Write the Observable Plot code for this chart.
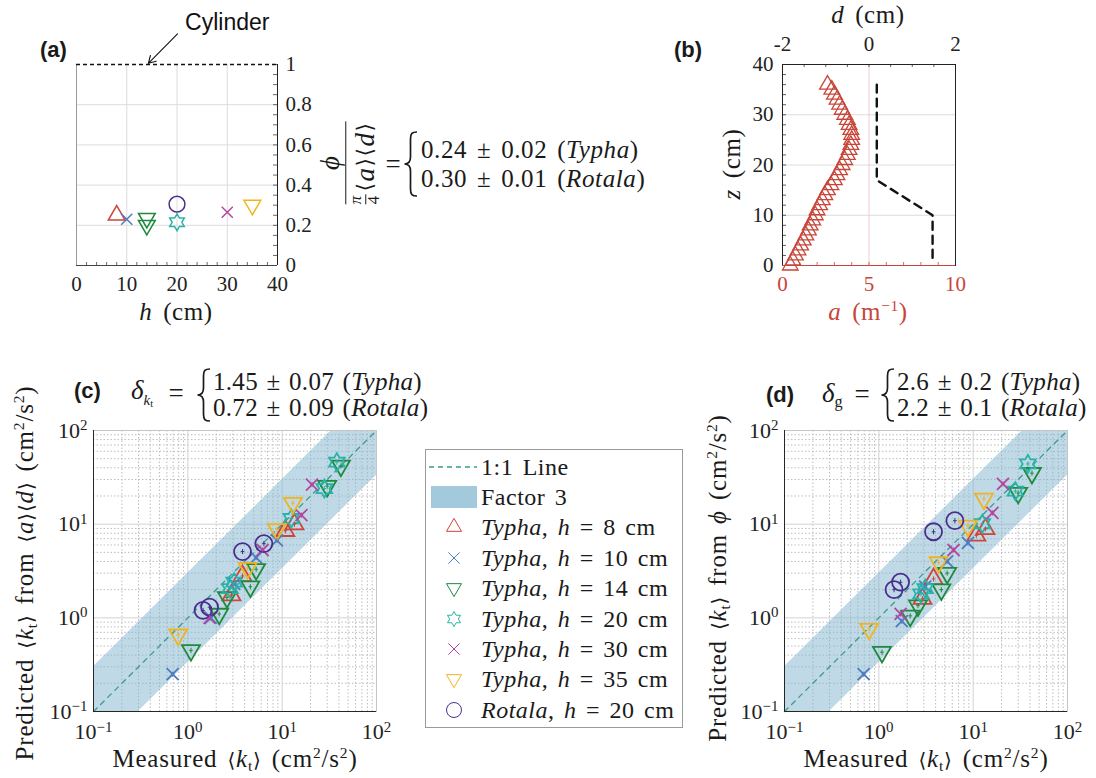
<!DOCTYPE html>
<html>
<head>
<meta charset="utf-8">
<script src="https://cdn.jsdelivr.net/npm/d3@7"></script>
<script src="https://cdn.jsdelivr.net/npm/@observablehq/plot@0.6"></script>
<style>
html,body{margin:0;padding:0;background:#fff;}
#fig{position:relative;width:1096px;height:778px;overflow:hidden;background:#fff;color:#1a1a1a;font-family:"Liberation Serif","DejaVu Serif",serif;}
.t{position:absolute;white-space:nowrap;line-height:1;}
.t sup{font-size:0.62em;vertical-align:0.55em;line-height:0;}
.t sub{font-size:0.62em;vertical-align:-0.3em;line-height:0;}
.ang{font-family:"DejaVu Serif",serif;font-size:0.8em;}
</style>
</head>
<body>
<div id="fig"></div>
<script>
// ======================= DATA =======================
// Series (order of drawing / legend)
const seriesKeys   = ["T8", "T10", "T14", "T20", "T30", "T35", "R20"];
const seriesLabels = [
  "<i>Typha</i>, <i>h</i> = 8 cm",
  "<i>Typha</i>, <i>h</i> = 10 cm",
  "<i>Typha</i>, <i>h</i> = 14 cm",
  "<i>Typha</i>, <i>h</i> = 20 cm",
  "<i>Typha</i>, <i>h</i> = 30 cm",
  "<i>Typha</i>, <i>h</i> = 35 cm",
  "<i>Rotala</i>, <i>h</i> = 20 cm"
];
const seriesColors = ["#d0443a", "#4d7cc0", "#1d8a3d", "#27b3a7", "#b4479f", "#f2b41e", "#4b2c8e"];

// Panel (a): normalized solid fraction vs canopy height
const ratioH      = [8, 10, 14, 14, 20, 20, 30, 35];
const ratioValue  = [0.25, 0.23, 0.235, 0.20, 0.215, 0.305, 0.265, 0.30];
const ratioSeries = ["T8", "T10", "T14", "T14", "T20", "R20", "T30", "T35"];
const cylinderRatio = [1];
const hTicks = [0, 10, 20, 30, 40];
const ratioTicks = [0, 0.2, 0.4, 0.6, 0.8, 1];
const cylinderNote = [{label: "Cylinder", hText: 30.0, rText: 1.21, hFrom: 20.1, rFrom: 1.152, hTo: 14.3, rTo: 1.006}];

// Panel (b): frontal area profile a(z) and stem diameter d(z)
const profileZ = [0,1,2,3,4,5,6,7,8,9,10,11,12,13,14,15,16,17,18,19,20,21,22,23,24,25,26,27,28,29,30,31,32,33,34,35,36];
const profileA = [0.45,0.6,0.75,0.9,1.05,1.2,1.35,1.5,1.6,1.75,1.9,2.0,2.15,2.3,2.45,2.6,2.8,3.0,3.15,3.3,3.45,3.6,3.75,3.85,3.95,4.0,4.0,3.95,3.85,3.75,3.6,3.45,3.3,3.15,3.0,2.85,2.6];
const diameterZ = [36, 17, 10, 0.5];
const diameterD = [0.18, 0.18, 1.47, 1.47];
const aTicks = [0, 5, 10];
const dTicks = [-2, 0, 2];
const zTicks = [0, 10, 20, 30, 40];

// Panels (c) and (d): measured vs predicted <k_t> (cm^2/s^2)
const measT8  = [2.9, 3.8, 10.8, 13.5];
const predAdT8  = [1.75, 2.8, 8.5, 10];
const predPhiT8 = [1.6, 2.6, 7.6, 8.9];
const measT10 = [0.69, 1.75, 3.1, 5.3, 8.8];
const predAdT10  = [0.25, 1.0, 2.3, 4.4, 6.7];
const predPhiT10 = [0.25, 0.92, 2.15, 4.0, 6.3];
const measT14 = [1.08, 2.15, 2.6, 4.6, 5.3, 30, 42];
const predAdT14  = [0.45, 1.1, 1.65, 2.15, 3.3, 25.5, 42];
const predPhiT14 = [0.43, 1.05, 1.35, 2.0, 3.0, 21.5, 35];
const measT20 = [2.8, 3.1, 12.5, 28, 38];
const predAdT20  = [2.05, 2.4, 11.5, 24, 46];
const predPhiT20 = [1.8, 2.05, 10.1, 22.5, 44];
const measT30 = [1.7, 6.2, 16, 20.7];
const predAdT30  = [1.0, 5.3, 12.5, 26.5];
const predPhiT30 = [1.1, 5.3, 13.2, 27];
const measT35 = [0.79, 4.3, 8.8, 13];
const predAdT35  = [0.66, 3.4, 8.8, 16.8];
const predPhiT35 = [0.76, 3.9, 9.6, 18.6];
const measR20 = [1.45, 1.7, 3.8, 6.4];
const predAdR20  = [1.2, 1.3, 5.1, 6.2];
const predPhiR20 = [2.0, 2.4, 8.3, 10.9];
const kRange = [0.1, 100];
const kDecades = [0.1, 1, 10, 100];
const bandFactor = 3;

// ======================= HELPERS =======================
const SERIF = '"Liberation Serif","DejaVu Serif",serif';
const SANS = '"Liberation Sans",Arial,sans-serif';
const measured = [measT8, measT10, measT14, measT20, measT30, measT35, measR20];
const predAd   = [predAdT8, predAdT10, predAdT14, predAdT20, predAdT30, predAdT35, predAdR20];
const predPhi  = [predPhiT8, predPhiT10, predPhiT14, predPhiT20, predPhiT30, predPhiT35, predPhiR20];

const rad = s => Math.sqrt(s / Math.PI);
const symTriUp = {draw(c, s) { const r = rad(s); c.moveTo(0, -1.15 * r); c.lineTo(r, 0.58 * r); c.lineTo(-r, 0.58 * r); c.closePath(); }};
const symTriDown = {draw(c, s) { const r = rad(s); c.moveTo(0, 1.15 * r); c.lineTo(r, -0.58 * r); c.lineTo(-r, -0.58 * r); c.closePath(); }};
const symTimes = {draw(c, s) { const r = rad(s) * 0.75; c.moveTo(-r, -r); c.lineTo(r, r); c.moveTo(-r, r); c.lineTo(r, -r); }};
const symHex = {draw(c, s) { const r = rad(s); for (let i = 0; i < 12; i++) { const ang = -Math.PI / 2 + i * Math.PI / 6; const rr = i % 2 ? r / Math.sqrt(3) : r; const x = rr * Math.cos(ang), y = rr * Math.sin(ang); if (i) c.lineTo(x, y); else c.moveTo(x, y); } c.closePath(); }};
const symCircle = {draw(c, s) { const r = rad(s); c.moveTo(r, 0); c.arc(0, 0, r, 0, 2 * Math.PI); }};
const symPlus = {draw(c, s) { const r = rad(s); c.moveTo(-r * 0.7, 0); c.lineTo(r * 0.7, 0); c.moveTo(0, -r); c.lineTo(0, r); }};
const seriesSymbols = [symTriUp, symTimes, symTriDown, symHex, symTimes, symTriDown, symCircle];
const seriesR = [9, 8, 9, 9, 8, 9, 8.5];

const plotStyle = {fontFamily: SERIF, fontSize: "20px", color: "#222", background: "transparent", overflow: "visible"};
const fig = document.getElementById("fig");

function put(node, left, top) {
  node.style.position = "absolute"; node.style.left = left + "px"; node.style.top = top + "px";
  fig.appendChild(node); return node;
}
function txt(html, x, y, o = {}) {
  const d = document.createElement("div");
  d.className = "t"; d.innerHTML = html;
  d.style.left = x + "px"; d.style.top = y + "px";
  d.style.fontSize = (o.size || 24) + "px";
  d.style.fontFamily = o.family || SERIF;
  d.style.fontWeight = o.weight || "normal";
  d.style.color = o.color || "#1a1a1a";
  if (o.ls) d.style.letterSpacing = o.ls + "px";
  if (o.ws) d.style.wordSpacing = o.ws + "px";
  const tx = o.anchor === "center" ? "-50%" : o.anchor === "right" ? "-100%" : "0";
  d.style.transform = `translate(${tx}, -50%)` + (o.rotate ? ` rotate(${o.rotate}deg)` : "");
  fig.appendChild(d); return d;
}
function brace(left, top, h) {
  const ns = "http://www.w3.org/2000/svg";
  const s = document.createElementNS(ns, "svg");
  s.setAttribute("width", 16); s.setAttribute("height", h);
  const m = h / 2;
  const p = document.createElementNS(ns, "path");
  p.setAttribute("d", `M14,1 C9,1 7.5,2.5 7.5,8 L7.5,${m - 7} C7.5,${m - 2} 5,${m} 1.5,${m} C5,${m} 7.5,${m + 2} 7.5,${m + 7} L7.5,${h - 8} C7.5,${h - 2.5} 9,${h - 1} 14,${h - 1}`);
  p.setAttribute("fill", "none"); p.setAttribute("stroke", "#1a1a1a"); p.setAttribute("stroke-width", "1.7");
  s.appendChild(p); s.style.overflow = "visible";
  return put(s, left, top);
}
function supTicks(svg) {
  svg.querySelectorAll("text").forEach(t => {
    const m = /^10\^(-?\d+)$/.exec(t.textContent);
    if (!m) return;
    t.textContent = "10";
    const ts = document.createElementNS("http://www.w3.org/2000/svg", "tspan");
    ts.setAttribute("dy", "-0.5em"); ts.setAttribute("font-size", "0.68em");
    ts.textContent = m[1].replace("-", "\u2212");
    t.appendChild(ts);
  });
}

// ======================= PANEL (a) =======================
const ratioRows = ratioH.map((h, i) => ({h, v: ratioValue[i], s: seriesKeys.indexOf(ratioSeries[i])}));
const plotA = Plot.plot({
  width: 340, height: 330, marginLeft: 76, marginRight: 63, marginTop: 64, marginBottom: 65,
  x: {domain: [hTicks[0], hTicks[hTicks.length - 1]]},
  y: {domain: [ratioTicks[0], ratioTicks[ratioTicks.length - 1]]},
  style: plotStyle,
  marks: [
    Plot.gridX({ticks: hTicks.slice(1, -1), stroke: "#dcdcdc", strokeOpacity: 1}),
    Plot.gridY({ticks: ratioTicks.slice(1, -1), stroke: "#dcdcdc", strokeOpacity: 1}),
    Plot.tickY(d3.range(0, 1.0001, 0.05), {y: d => d, insetLeft: 197, stroke: "#444", strokeWidth: 0.8}),
    Plot.tickX(d3.range(0, 40.001, 2), {x: d => d, insetTop: 198, stroke: "#444", strokeWidth: 0.8}),
    Plot.ruleX([hTicks[0]], {stroke: "#9a9a9a"}),
    Plot.ruleX([hTicks[hTicks.length - 1]], {stroke: "#222"}),
    Plot.ruleY([ratioTicks[0]], {stroke: "#444"}),
    Plot.ruleY(cylinderRatio, {stroke: "#111", strokeDasharray: "4,3", strokeWidth: 1.6}),
    Plot.axisX({ticks: hTicks, tickSize: 0, tickPadding: 11, label: null, tickFormat: d => String(d), fontSize: 21}),
    Plot.axisY({ticks: ratioTicks, anchor: "right", tickSize: 0, tickPadding: 8, label: null, tickFormat: d => String(d), fontSize: 21}),
    ...seriesKeys.map((k, i) => Plot.dot(ratioRows.filter(r => r.s === i), {
      x: "h", y: "v", symbol: seriesSymbols[i], r: seriesR[i] - 0.6, stroke: seriesColors[i], fill: "none", strokeWidth: 1.5
    })),
    Plot.arrow(cylinderNote, {x1: "hFrom", y1: "rFrom", x2: "hTo", y2: "rTo", stroke: "#111", strokeWidth: 1.1, headLength: 11}),
    Plot.text(cylinderNote, {x: "hText", y: "rText", text: "label", fontFamily: SANS, fontSize: 23, fill: "#111"})
  ]
});
put(plotA, 0, 0);

// ======================= PANEL (b) =======================
const dToA = d3.scaleLinear().domain([dTicks[0], dTicks[dTicks.length - 1]]).range([aTicks[0], aTicks[aTicks.length - 1]]);
const profileRows = profileZ.map((z, i) => ({z, a: profileA[i]}));
const diameterRows = diameterZ.map((z, i) => ({z, a: dToA(diameterD[i])}));
const RED = "#c8453a";
const plotB = Plot.plot({
  width: 400, height: 330, marginLeft: 142, marginRight: 85, marginTop: 64, marginBottom: 65,
  x: {domain: [aTicks[0], aTicks[aTicks.length - 1]]},
  y: {domain: [zTicks[0], zTicks[zTicks.length - 1]]},
  style: plotStyle,
  marks: [
    Plot.gridY({ticks: zTicks.slice(1, -1), stroke: "#dcdcdc", strokeOpacity: 1}),
    Plot.gridX({ticks: [aTicks[1]], stroke: "#efcfcf", strokeOpacity: 1}),
    Plot.tickY(d3.range(0, 40.001, 2), {y: d => d, insetRight: 169, stroke: "#333", strokeWidth: 0.8}),
    Plot.tickX(d3.range(0, 10.001, 1), {x: d => d, insetTop: 198, stroke: RED, strokeWidth: 0.8}),
    Plot.tickX(d3.range(-2, 2.001, 0.5).map(dToA), {x: d => d, insetBottom: 198, stroke: "#333", strokeWidth: 0.8}),
    Plot.frame({stroke: "#222"}),
    Plot.ruleY([zTicks[0]], {stroke: RED}),
    Plot.axisX({ticks: aTicks, tickSize: 0, tickPadding: 11, label: null, fill: RED, tickFormat: d => String(d), fontSize: 21}),
    Plot.axisX({anchor: "top", ticks: dTicks.map(dToA), tickSize: 0, tickPadding: 14, label: null, tickFormat: a => String(Math.round(dToA.invert(a))), fontSize: 21}),
    Plot.axisY({ticks: zTicks, tickSize: 0, tickPadding: 9, label: null, tickFormat: d => String(d), fontSize: 21}),
    Plot.line(diameterRows, {x: "a", y: "z", stroke: "#111", strokeWidth: 2.4, strokeDasharray: "8,6"}),
    Plot.dot(profileRows, {x: "a", y: "z", symbol: symTriUp, r: 7.8, stroke: RED, fill: "none", strokeWidth: 1.3})
  ]
});
put(plotB, 640, 0);

// ======================= PANELS (c) and (d) =======================
const kRows = [];
seriesKeys.forEach((k, i) => measured[i].forEach((m, j) => kRows.push({s: i, meas: m, ad: predAd[i][j], phi: predPhi[i][j]})));
const kAll = d3.scaleLog().domain(kRange).ticks();
const kMinor = kAll.filter(v => !kDecades.some(d => Math.abs(d - v) < 1e-9));
const powFmt = d => "10^" + Math.round(Math.log10(d));

function kPanel(field, width, marginLeft) {
  const svg = Plot.plot({
    width, height: 398, marginLeft, marginRight: width - marginLeft - 283, marginTop: 50, marginBottom: 67,
    x: {type: "log", domain: kRange},
    y: {type: "log", domain: kRange},
    style: plotStyle,
    marks: [
      Plot.gridX({ticks: kMinor, stroke: "#bdbdbd", strokeOpacity: 1, strokeDasharray: "1.5,2"}),
      Plot.gridY({ticks: kMinor, stroke: "#bdbdbd", strokeOpacity: 1, strokeDasharray: "1.5,2"}),
      Plot.gridX({ticks: kDecades, stroke: "#d2d2d2", strokeOpacity: 1}),
      Plot.gridY({ticks: kDecades, stroke: "#d2d2d2", strokeOpacity: 1}),
      Plot.areaY(kRange, {x: d => d, y1: d => d / bandFactor, y2: d => d * bandFactor, fill: "#80b4cf", fillOpacity: 0.5, clip: true}),
      Plot.line(kRange, {x: d => d, y: d => d, stroke: "#3d9a8b", strokeWidth: 1.3, strokeDasharray: "5,5"}),
      Plot.frame({stroke: "#c4c4c4"}),
      Plot.ruleX([kRange[0]], {stroke: "#262626"}),
      Plot.ruleY([kRange[0]], {stroke: "#262626"}),
      Plot.axisX({ticks: kDecades, tickSize: 0, tickPadding: 12, label: null, tickFormat: powFmt, fontSize: 22}),
      Plot.axisY({ticks: kDecades, tickSize: 0, tickPadding: 6, label: null, tickFormat: powFmt, fontSize: 22}),
      ...seriesKeys.map((k, i) => Plot.dot(kRows.filter(r => r.s === i), {
        x: "meas", y: field, symbol: seriesSymbols[i], r: seriesR[i], stroke: seriesColors[i], fill: "none", strokeWidth: 1.8
      })),
      ...seriesKeys.map((k, i) => Plot.dot(kRows.filter(r => r.s === i), {
        x: "meas", y: field, symbol: symPlus, r: 2.6, stroke: seriesColors[i], fill: "none", strokeWidth: 1
      }))
    ]
  });
  supTicks(svg);
  return svg;
}
put(kPanel("ad", 400, 93), 0, 380);
put(kPanel("phi", 406, 94), 690, 380);

// ======================= LEGEND =======================
const leg = document.createElement("div");
leg.style.cssText = "width:258px;height:279px;border:1px solid #9a9a9a;background:#fff;box-sizing:border-box;";
put(leg, 425, 449);
const NS = "http://www.w3.org/2000/svg";
function legRow(i, drawIcon, html) {
  const cy = 16.5 + i * 30.4;
  const s = document.createElementNS(NS, "svg");
  s.setAttribute("width", 56); s.setAttribute("height", 30);
  s.style.position = "absolute"; s.style.left = "0px"; s.style.top = (cy - 15) + "px";
  drawIcon(s);
  leg.appendChild(s);
  const t = document.createElement("div");
  t.className = "t"; t.innerHTML = html;
  t.style.left = "55px"; t.style.top = cy + "px"; t.style.fontSize = "24px"; t.style.transform = "translate(0,-50%)";
  t.style.wordSpacing = "3px"; t.style.letterSpacing = "0.5px";
  leg.appendChild(t);
}
legRow(0, s => { const l = document.createElementNS(NS, "line"); l.setAttribute("x1", 3); l.setAttribute("x2", 51); l.setAttribute("y1", 15); l.setAttribute("y2", 15); l.setAttribute("stroke", "#3d9a8b"); l.setAttribute("stroke-width", 1.4); l.setAttribute("stroke-dasharray", "5,4"); s.appendChild(l); }, "1:1 Line");
legRow(1, s => { const r = document.createElementNS(NS, "rect"); r.setAttribute("x", 5); r.setAttribute("y", 4); r.setAttribute("width", 46); r.setAttribute("height", 22); r.setAttribute("fill", "#a3c9dc"); s.appendChild(r); }, "Factor 3");
seriesKeys.forEach((k, i) => legRow(i + 2, s => {
  const p = document.createElementNS(NS, "path");
  p.setAttribute("d", d3.symbol(seriesSymbols[i], Math.PI * 7.5 * 7.5)());
  p.setAttribute("transform", "translate(28,15)");
  p.setAttribute("fill", "none"); p.setAttribute("stroke", seriesColors[i]); p.setAttribute("stroke-width", 1);
  s.appendChild(p);
}, seriesLabels[i]));

// ======================= TEXT / ANNOTATIONS =======================
const ANG_L = '<span class="ang">⟨</span>', ANG_R = '<span class="ang">⟩</span>';
const KT = `${ANG_L}<i>k</i><sub>t</sub>${ANG_R}`;
const UNITS = "(cm<sup>2</sup>/s<sup>2</sup>)";

// panel labels
txt("(a)", 40, 50, {size: 22, family: SANS, weight: "bold"});
txt("(b)", 674, 50, {size: 22, family: SANS, weight: "bold"});
txt("(c)", 74, 391, {size: 22, family: SANS, weight: "bold"});
txt("(d)", 766, 395, {size: 22, family: SANS, weight: "bold"});

// (a) axis title and relation
txt("<i>h</i> (cm)", 176, 311, {size: 25, anchor: "center", ws: 4, ls: 0.6});
const fracHtml = `<div style="display:inline-flex;flex-direction:column;align-items:center;">
  <div style="font-style:italic;line-height:1;padding-bottom:1px">ϕ</div>
  <div style="align-self:stretch;border-top:1.3px solid #1a1a1a"></div>
  <div style="display:flex;align-items:center;line-height:1;padding-top:2px;letter-spacing:1.5px">
    <span style="display:inline-flex;flex-direction:column;align-items:center;font-size:0.62em;line-height:1;margin-right:3px"><i>π</i><span style="border-top:1px solid #1a1a1a;align-self:stretch;text-align:center">4</span></span>
    ${ANG_L}<i>a</i>${ANG_R}${ANG_L}<i>d</i>${ANG_R}</div></div>`;
txt(fracHtml, 350, 163, {size: 27, anchor: "center", rotate: -90});
txt("=", 393, 164, {size: 27, anchor: "center"});
brace(403, 131, 66);
txt("0.24 ± 0.02 (<i>Typha</i>)", 421, 149, {size: 25, ls: 0.6, ws: 3});
txt("0.30 ± 0.01 (<i>Rotala</i>)", 421, 178, {size: 25, ls: 0.6, ws: 3});

// (b) axis titles
txt("<i>d</i> (cm)", 868, 14, {size: 25, anchor: "center", ws: 4, ls: 0.6});
txt("<i>z</i> (cm)", 731, 164, {size: 25, anchor: "center", rotate: -90, ws: 4, ls: 0.6});
txt("<i>a</i> (m<sup>−1</sup>)", 868, 311, {size: 25, anchor: "center", color: RED, ws: 4, ls: 0.6});

// (c) relation and titles
txt('<i>δ</i><span style="font-size:0.55em;vertical-align:-0.4em"><i>k</i><span style="font-size:0.7em;vertical-align:-0.15em">t</span></span>', 131, 393, {size: 27});
txt("=", 176, 393, {size: 27, anchor: "center"});
brace(196, 368, 54);
txt("1.45 ± 0.07 (<i>Typha</i>)", 213, 381, {size: 25, ls: 0.3, ws: 2});
txt("0.72 ± 0.09 (<i>Rotala</i>)", 213, 407, {size: 25, ls: 0.3, ws: 2});
txt(`Predicted ${KT} from ${ANG_L}<i>a</i>${ANG_R}${ANG_L}<i>d</i>${ANG_R} ${UNITS}`, 24, 573, {size: 25, anchor: "center", rotate: -90, ls: 0.8, ws: 3});
txt(`Measured ${KT} ${UNITS}`, 235, 758, {size: 25, anchor: "center", ls: 0.8, ws: 3});

// (d) relation and titles
txt('<i>δ</i><span style="font-size:0.6em;vertical-align:-0.35em">g</span>', 822, 395, {size: 27});
txt("=", 862, 394, {size: 27, anchor: "center"});
brace(880, 368, 54);
txt("2.6 ± 0.2 (<i>Typha</i>)", 897, 381, {size: 25, ls: 0.3, ws: 2});
txt("2.2 ± 0.1 (<i>Rotala</i>)", 897, 407, {size: 25, ls: 0.3, ws: 2});
txt(`Predicted ${KT} from <i>ϕ</i> ${UNITS}`, 717, 578, {size: 25, anchor: "center", rotate: -90, ls: 0.8, ws: 3});
txt(`Measured ${KT} ${UNITS}`, 926, 758, {size: 25, anchor: "center", ls: 0.8, ws: 3});
</script>
</body>
</html>
